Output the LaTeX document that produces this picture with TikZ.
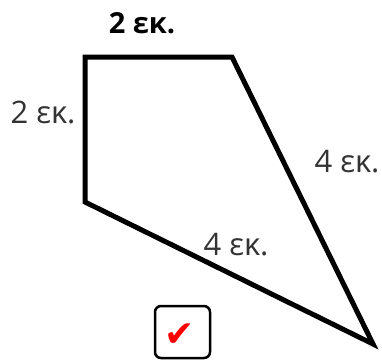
\documentclass[tikz,border=0pt]{standalone}
\usepackage{fontspec}
\setmainfont{Open Sans}
\newfontfamily\symfont{DejaVu Sans}
\begin{document}
\begin{tikzpicture}[x=1pt,y=-1pt,
  lbl/.style={font=\fontsize{31}{31}\selectfont, text=black!80, inner sep=0pt},
  blbl/.style={font=\fontsize{29}{29}\selectfont\bfseries, text=black, inner sep=0pt},
  edge/.style={line width=5pt, line join=miter}]
\useasboundingbox (0,0) rectangle (382,360);
\coordinate (A) at (85,57);
\coordinate (B) at (232,57);
\coordinate (C) at (373,344);
\coordinate (D) at (85,202);
\draw[edge] (A) -- (B) -- (C) -- (D) -- cycle;
\node[blbl] (top) at (142,23) {2 εκ.};
\node[lbl] (left) at (43,112) {2 εκ.};
\node[lbl] (right) at (347,162) {4 εκ.};
\node[lbl] (bottom) at (236,245) {4 εκ.};
\node[draw, line width=2.5pt, rounded corners=6pt, minimum width=55pt, minimum height=52pt, inner sep=0pt] (box) at (182.5,332) {};
\node[text=red, font=\symfont\fontsize{36}{36}\selectfont, inner sep=0pt] (check) at (180,335) {✔};
\end{tikzpicture}
\end{document}
